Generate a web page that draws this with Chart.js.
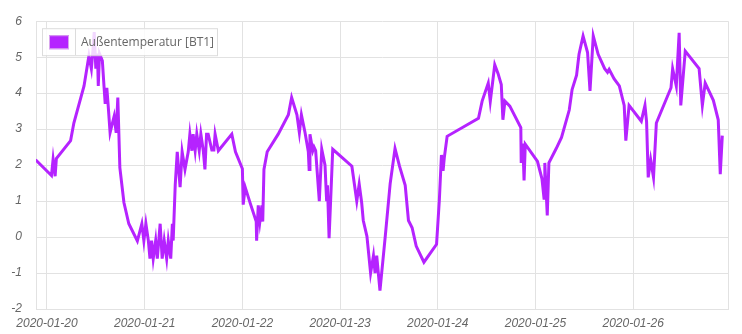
<!DOCTYPE html>
<html>
<head>
<meta charset="utf-8">
<script src="https://cdn.jsdelivr.net/npm/chart.js@4/dist/chart.umd.min.js"></script>
<style>
    body { margin: 0; background: #fff; }
</style>
</head>
<body>
<canvas id="myChart" width="742" height="334"></canvas>
<script>
// hours since 2020-01-20 00:00
const hours = [-2.8, 1.1, 1.5, 2.0, 2.3, 5.8, 6.6, 9.1, 10.3, 10.9,
    11.3, 11.6, 12.0, 12.4, 12.6, 12.9, 13.6, 14.0, 14.3, 14.7,
    15.0, 15.5, 16.5, 17.0, 17.4, 17.9, 18.9, 20.1, 22.2, 23.3,
    23.8, 24.3, 24.9, 25.3, 25.7, 26.1, 26.7, 27.1, 27.8, 28.3,
    28.8, 29.4, 29.8, 30.4, 30.8, 31.0, 31.5, 32.0, 32.7, 33.2,
    33.9, 34.7, 35.1, 35.6, 35.9, 36.4, 36.8, 37.4, 37.8, 38.4,
    38.8, 39.2, 39.6, 40.5, 41.0, 41.3, 42.1, 45.4, 46.3, 48.0,
    48.2, 48.7, 49.9, 51.4, 51.5, 51.9, 52.3, 52.8, 53.0, 53.3,
    54.1, 56.8, 59.3, 60.1, 61.4, 62.0, 62.5, 63.4, 64.2, 64.4,
    64.6, 65.3, 65.6, 66.0, 66.9, 67.5, 68.3, 68.7, 68.9, 69.3,
    70.2, 74.9, 76.1, 76.7, 77.3, 77.7, 78.6, 79.5, 80.2, 80.6,
    81.0, 81.8, 83.1, 84.3, 85.5, 86.6, 88.0, 88.8, 89.7, 90.7,
    92.6, 95.7, 96.4, 96.9, 97.3, 97.6, 98.3, 106.0, 106.9, 108.4,
    108.9, 110.0, 110.8, 111.6, 112.0, 112.5, 113.7, 116.4, 116.5, 116.9,
    117.2, 117.5, 120.5, 121.6, 122.1, 122.3, 122.9, 123.3, 125.1, 126.4,
    128.3, 129.0, 130.1, 130.7, 131.7, 132.8, 133.4, 134.2, 135.4, 137.0,
    137.7, 138.1, 139.3, 140.6, 141.8, 142.2, 143.0, 146.0, 146.9, 147.3,
    147.7, 148.3, 149.0, 149.7, 153.3, 153.7, 154.6, 155.3, 155.7, 156.8,
    160.2, 161.0, 161.7, 163.7, 164.9, 165.4, 165.9];

const temps = [2.15, 1.71, 2.16, 1.69, 2.18, 2.68, 3.17, 4.2, 5.04, 4.68,
    5.2, 5.7, 4.68, 5.1, 4.2, 5.1, 4.9, 4.2, 3.7, 4.15,
    3.7, 2.9, 3.36, 2.9, 3.88, 1.93, 0.96, 0.37, -0.11, 0.37,
    -0.1, 0.37, -0.1, -0.6, -0.1, -0.6, -0.1, -0.6, 0.37, -0.6,
    -0.1, -0.6, -0.1, -0.6, 0.37, -0.1, 1.44, 2.37, 1.39, 2.37,
    1.88, 2.37, 2.86, 2.4, 2.86, 2.4, 2.86, 2.4, 2.86, 2.4,
    1.88, 2.86, 2.86, 2.42, 2.42, 2.86, 2.4, 2.86, 2.37, 1.9,
    0.9, 1.38, 0.95, 0.43, -0.1, 0.88, 0.43, 0.88, 0.43, 1.88,
    2.37, 2.86, 3.4, 3.88, 3.4, 2.9, 3.4, 2.9, 2.37, 1.88,
    2.86, 2.4, 2.5, 2.4, 1.0, 2.44, 2.0, 1.0, 1.44, -0.03,
    2.44, 1.97, 1.0, 1.47, 0.96, 0.46, 0.02, -1.0, -0.52, -1.0,
    -0.52, -1.49, 0.02, 1.48, 2.46, 1.97, 1.44, 0.46, 0.26, -0.25,
    -0.7, -0.2, 1.05, 2.28, 1.84, 2.2, 2.8, 3.3, 3.78, 4.28,
    3.77, 4.79, 4.55, 4.24, 3.26, 3.78, 3.64, 3.04, 2.06, 2.6,
    1.57, 2.58, 2.1, 1.62, 1.08, 2.06, 0.6, 2.06, 2.46, 2.77,
    3.53, 4.1, 4.5, 5.08, 5.59, 5.13, 4.06, 5.59, 5.08, 4.68,
    4.58, 4.66, 4.4, 4.2, 3.66, 2.68, 3.66, 3.22, 3.66, 3.2,
    1.66, 2.15, 1.66, 3.17, 4.15, 4.68, 4.2, 5.68, 3.66, 5.17,
    4.68, 3.66, 4.28, 3.8, 3.26, 1.75, 2.82];

const dayTicks = [0, 24, 48, 72, 96, 120, 144];
const dayLabels = ['2020-01-20', '2020-01-21', '2020-01-22', '2020-01-23', '2020-01-24', '2020-01-25', '2020-01-26'];
const seriesLabel = 'Außentemperatur [BT1]';

const lineColor = 'rgb(181, 35, 255)';
const gridColor = '#e2e2e2';
const tickFont = { family: "'Liberation Sans', Arial, sans-serif", size: 12, style: 'italic' };

// legend in a framed box inside the plot, drawn over the line
const legendBox = {
    id: 'legendBox',
    afterDatasetsDraw(chart) {
        const ctx = chart.ctx;
        const area = chart.chartArea;
        const x = area.left + 6, y = area.top + 7, w = 175, h = 27;
        ctx.save();
        ctx.fillStyle = 'rgba(255, 255, 255, 0.82)';
        ctx.fillRect(x, y, w, h);
        ctx.strokeStyle = '#dcdcdc';
        ctx.lineWidth = 1;
        ctx.strokeRect(x + 0.5, y + 0.5, w, h);
        ctx.beginPath();
        ctx.moveTo(x + 33.5, y);
        ctx.lineTo(x + 33.5, y + h);
        ctx.stroke();
        ctx.fillStyle = lineColor;
        ctx.fillRect(x + 7, y + 7, 20, 14);
        ctx.strokeStyle = '#d9a6ee';
        ctx.strokeRect(x + 7.5, y + 7.5, 19, 13);
        ctx.fillStyle = '#666';
        ctx.font = "12px 'Open Sans', sans-serif";
        ctx.textBaseline = 'middle';
        ctx.fillText(chart.data.datasets[0].label, x + 39, y + h / 2 + 1);
        ctx.restore();
    },
    beforeDatasetsDraw(chart) {
        const ctx = chart.ctx;
        const area = chart.chartArea;
        ctx.save();
        ctx.strokeStyle = gridColor;
        ctx.lineWidth = 1;
        ctx.beginPath();
        ctx.moveTo(Math.round(area.right) + 0.5, area.top);
        ctx.lineTo(Math.round(area.right) + 0.5, area.bottom);
        ctx.stroke();
        ctx.restore();
    }
};

window.onload = function() {
    const myChart = document.getElementById("myChart").getContext("2d");

    const points = hours.map(function(h, i) {
        return { x: h, y: temps[i] };
    });

    const lineChart = new Chart(myChart, {
        type: 'line',
        data: {
            datasets: [{
                label: seriesLabel,
                data: points,
                borderColor: lineColor,
                backgroundColor: lineColor,
                borderWidth: 3,
                pointRadius: 0,
                tension: 0,
                fill: false
            }]
        },
        options: {
            responsive: false,
            animation: false,
            layout: { padding: { top: 9, right: 14, left: 0, bottom: 0 } },
            plugins: {
                legend: { display: false },
                tooltip: { enabled: false }
            },
            scales: {
                x: {
                    type: 'linear',
                    min: -2.7,
                    max: 167.3,
                    afterBuildTicks: function(axis) {
                        axis.ticks = dayTicks.map(function(v) { return { value: v }; });
                    },
                    afterFit: function(axis) { axis.height = 25; },
                    grid: { color: gridColor, drawTicks: false },
                    border: { color: gridColor },
                    ticks: {
                        maxRotation: 0,
                        autoSkip: false,
                        padding: 7,
                        color: '#666',
                        font: tickFont,
                        callback: function(value) {
                            return dayLabels[dayTicks.indexOf(value)];
                        }
                    }
                },
                y: {
                    min: -2,
                    max: 6,
                    afterFit: function(axis) { axis.width = 36; },
                    grid: { color: gridColor, drawTicks: false },
                    border: { color: gridColor },
                    ticks: {
                        stepSize: 1,
                        padding: 14,
                        color: '#666',
                        font: tickFont
                    }
                }
            }
        },
        plugins: [legendBox]
    });
}
</script>
</body>
</html>
